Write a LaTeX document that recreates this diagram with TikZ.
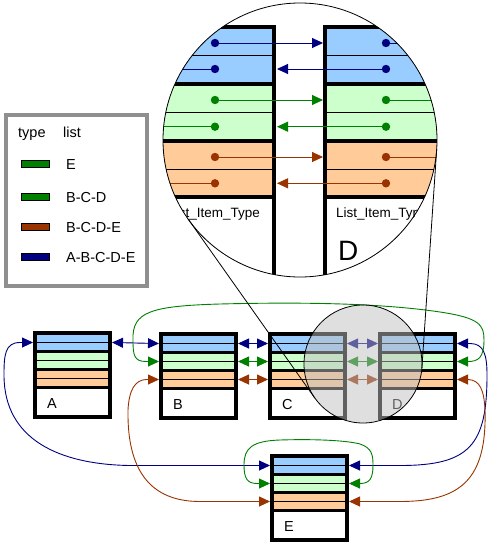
\documentclass[tikz,border=0pt]{standalone}
\usepackage{fontspec}
\setmainfont{Liberation Sans}
\usetikzlibrary{arrows.meta}
\definecolor{bandblue}{HTML}{99CCFF}
\definecolor{bandgreen}{HTML}{CCFFCC}
\definecolor{bandorange}{HTML}{FFCC99}
\definecolor{linkblue}{HTML}{000080}
\definecolor{linkgreen}{HTML}{008000}
\definecolor{linkorange}{HTML}{993300}
\definecolor{framegray}{HTML}{8F8F8F}
\definecolor{lensgray}{HTML}{C0C0C0}
\tikzset{
  rowline/.style={line width=0.8pt, black},
  boxlabel/.style={anchor=base west, inner sep=0pt, font=\fontsize{14.5}{16}\selectfont},
  legtext/.style={anchor=base west, inner sep=0pt, font=\fontsize{14.5}{16}\selectfont},
  bigtext/.style={inner sep=0pt, font=\fontsize{13.5}{16}\selectfont},
  hugetext/.style={inner sep=0pt, font=\fontsize{28}{32}\selectfont},
  link/.style={line width=0.9pt, {Triangle[length=11pt,width=10pt]}-{Triangle[length=11pt,width=10pt]}},
  lkblue/.style={link, draw=linkblue, fill=linkblue},
  lkgreen/.style={link, draw=linkgreen, fill=linkgreen},
  lkorange/.style={link, draw=linkorange, fill=linkorange},
  bigarrow/.style={line width=1pt, -{Triangle[length=11pt,width=10pt]}},
  stub/.style={line width=1pt},
  swatch/.style={line width=0.6pt, draw=black},
  thinline/.style={line width=0.8pt, black}
}
\newcommand{\lstbox}[4]{%
  \begin{scope}[shift={(#2,#3)}]
    \fill[black] (0,0) rectangle (79,88);
    \fill[bandblue] (4,4) rectangle (75,19);
    \fill[bandgreen] (4,22) rectangle (75,37);
    \fill[bandorange] (4,40) rectangle (75,55);
    \fill[white] (4,58) rectangle (75,84);
    \draw[rowline] (4,11.5) -- (75,11.5) (4,29.5) -- (75,29.5) (4,47.5) -- (75,47.5);
    \node[boxlabel] (#1-label) at (14,77) {#4};
    \coordinate (#1-bw) at (0,11.5); \coordinate (#1-be) at (79,11.5);
    \coordinate (#1-gw) at (0,29.5); \coordinate (#1-ge) at (79,29.5);
    \coordinate (#1-ow) at (0,47.5); \coordinate (#1-oe) at (79,47.5);
  \end{scope}}
\begin{document}
\begin{tikzpicture}[x=1pt, y=-1pt]
\useasboundingbox (0,0) rectangle (499,544);
\fill[white] (0,0) rectangle (499,544);

% ---------- legend ----------
\draw[framegray, line width=4pt] (6,115) rectangle (147,286);
\node[legtext] (lg-type) at (18,137) {type};
\node[legtext] (lg-list) at (63,137) {list};
\draw[swatch, fill=linkgreen] (21,160.5) rectangle (49,167.5);
\node[legtext] (lg-e) at (66,169) {E};
\draw[swatch, fill=linkgreen] (21,193) rectangle (49,200);
\node[legtext] (lg-bcd) at (66,202) {B-C-D};
\draw[swatch, fill=linkorange] (21,223.5) rectangle (49,230.5);
\node[legtext] (lg-bcde) at (66,232.5) {B-C-D-E};
\draw[swatch, fill=linkblue] (21,253.5) rectangle (49,260.5);
\node[legtext] (lg-abcde) at (66,262.5) {A-B-C-D-E};

% ---------- magnified view ----------
\begin{scope}
  \clip (300,140) circle[radius=137pt];
  \fill[white] (300,140) circle[radius=137pt];
  % left box (C)
  \fill[black] (100,25) rectangle (276,300);
  \fill[bandblue] (100,29) rectangle (272,81.7);
  \fill[bandgreen] (100,85.7) rectangle (272,139);
  \fill[bandorange] (100,142.7) rectangle (272,195);
  \fill[white] (100,198.7) rectangle (272,300);
  % right box (D)
  \fill[black] (323,25) rectangle (560,300);
  \fill[bandblue] (327,29) rectangle (560,81.7);
  \fill[bandgreen] (327,85.7) rectangle (560,139);
  \fill[bandorange] (327,142.7) rectangle (560,195);
  \fill[white] (327,198.7) rectangle (560,300);
  % row separators
  \draw[thinline] (100,55) -- (272,55) (327,55) -- (560,55);
  \draw[thinline] (100,112.3) -- (272,112.3) (327,112.3) -- (560,112.3);
  \draw[thinline] (100,169.3) -- (272,169.3) (327,169.3) -- (560,169.3);
  % pointer dots
  \foreach \yy/\cc in {43/linkblue,69/linkblue,100/linkgreen,126.7/linkgreen,157/linkorange,183.3/linkorange}{
    \fill[\cc] (215,\yy) circle[radius=4.2pt];
    \fill[\cc] (386,\yy) circle[radius=4.2pt];
  }
  \coordinate (mC-b1) at (215,43);   \coordinate (mD-b1) at (386,43);
  \coordinate (mC-b2) at (215,69);   \coordinate (mD-b2) at (386,69);
  \coordinate (mC-g1) at (215,100);  \coordinate (mD-g1) at (386,100);
  \coordinate (mC-g2) at (215,126.7);\coordinate (mD-g2) at (386,126.7);
  \coordinate (mC-o1) at (215,157);  \coordinate (mD-o1) at (386,157);
  \coordinate (mC-o2) at (215,183.3);\coordinate (mD-o2) at (386,183.3);
  \coordinate (mD-edge) at (323,0);
  \coordinate (mC-edge) at (277,0);
  % next pointers C -> D
  \draw[bigarrow, linkblue] (mC-b1) -- (mC-b1 -| mD-edge);
  \draw[bigarrow, linkgreen] (mC-g1) -- (mC-g1 -| mD-edge);
  \draw[bigarrow, linkorange] (mC-o1) -- (mC-o1 -| mD-edge);
  % prev pointers D -> C
  \draw[bigarrow, linkblue] (mD-b2) -- (mD-b2 -| mC-edge);
  \draw[bigarrow, linkgreen] (mD-g2) -- (mD-g2 -| mC-edge);
  \draw[bigarrow, linkorange] (mD-o2) -- (mD-o2 -| mC-edge);
  % outgoing stubs
  \draw[stub, linkblue] (mC-b2) -- (100,69);
  \draw[stub, linkgreen] (mC-g2) -- (100,126.7);
  \draw[stub, linkorange] (mC-o2) -- (100,183.3);
  \draw[stub, linkblue] (mD-b1) -- (560,43);
  \draw[stub, linkgreen] (mD-g1) -- (560,100);
  \draw[stub, linkorange] (mD-o1) -- (560,157);
  % texts
  \node[bigtext, anchor=base east] (mC-type) at (260,217) {List\_Item\_Type};
  \node[bigtext, anchor=base west] (mD-type) at (336,217) {List\_Item\_Type};
  \node[hugetext, anchor=base west] (mD-label) at (338,260) {D};
\end{scope}
\draw[thinline] (300,140) circle[radius=137pt];

% ---------- list boxes ----------
\lstbox{A}{33}{331}{A}
\lstbox{B}{159}{332}{B}
\lstbox{C}{268}{332}{C}
\lstbox{D}{378}{332}{D}
\lstbox{E}{270}{454}{E}

% ---------- links between neighbours ----------
\draw[lkblue] (A-be) -- (B-bw);
\draw[lkblue] (B-be) -- (C-bw);
\draw[lkgreen] (B-ge) -- (C-gw);
\draw[lkorange] (B-oe) -- (C-ow);
\draw[lkblue] (C-be) -- (D-bw);
\draw[lkgreen] (C-ge) -- (D-gw);
\draw[lkorange] (C-oe) -- (D-ow);

% ---------- wrap-around links ----------
% blue: A (left) <-> E (left)
\draw[lkblue, fill=none] (A-bw) -- (20,342.5) .. controls (5,342.5) and (4,355) .. (4,375)
   .. controls (4,440) and (60,464.5) .. (130,465.5) -- (E-bw);
% blue: D (right) <-> E (right)
\draw[lkblue, fill=none] (D-be) -- (470,343.5) .. controls (484,343.5) and (487,355) .. (487,375)
   .. controls (487,445) and (470,465.5) .. (400,465.5) -- (E-be);
% orange: B (left) <-> E (left)
\draw[lkorange, fill=none] (B-ow) -- (146,379.5) .. controls (135,380) and (129,390) .. (128,410)
   .. controls (127,470) and (150,501.5) .. (200,501.5) -- (E-ow);
% orange: D (right) <-> E (right)
\draw[lkorange, fill=none] (D-oe) -- (468,379.5) .. controls (480,380) and (484,390) .. (485,410)
   .. controls (487,480) and (460,501.5) .. (400,501.5) -- (E-oe);
% green: B (left) <-> D (right) over the top
\draw[lkgreen, fill=none] (B-gw) -- (146,361.5) .. controls (134,361.5) and (133,355) .. (133,340)
   .. controls (132,312) and (150,306) .. (220,304)
   .. controls (300,302) and (380,303) .. (440,312)
   .. controls (480,318) and (484,325) .. (484,340)
   .. controls (484,358) and (478,361.5) .. (468,361.5) -- (D-ge);
% green: E self loop
\draw[lkgreen, fill=none] (E-gw) -- (257,483.5) .. controls (247,483.5) and (244,478) .. (244,465)
   .. controls (244,448) and (252,441) .. (280,440)
   .. controls (310,439) and (345,440) .. (360,444)
   .. controls (372,448) and (373,455) .. (373,465)
   .. controls (373,478) and (370,483.5) .. (360,483.5) -- (E-ge);

% ---------- lens ----------
\fill[lensgray, fill opacity=0.5] (363,364) circle[radius=59pt];
\draw[thinline] (363,364) circle[radius=59pt];

% ---------- tangent lines ----------
\coordinate (bigL) at (188.2,219.1);
\coordinate (lensL) at (314.8,398.1);
\coordinate (bigR) at (436.7,149.3);
\coordinate (lensR) at (421.9,368.0);
\draw[thinline] (bigL) -- (lensL);
\draw[thinline] (bigR) -- (lensR);
\end{tikzpicture}
\end{document}
